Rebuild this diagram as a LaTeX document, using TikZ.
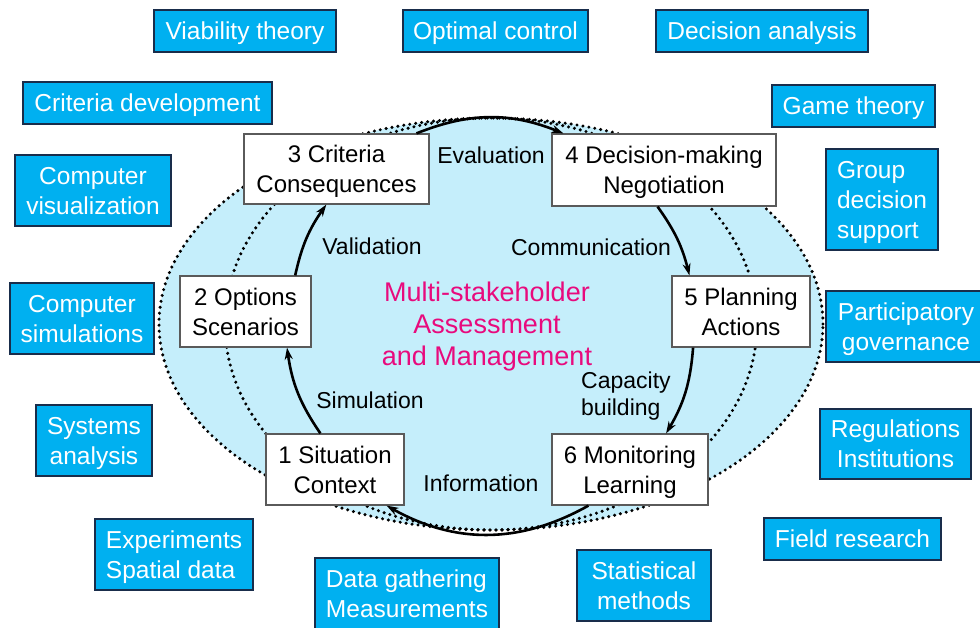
\documentclass[tikz,border=0pt]{standalone}
\usepackage{fontspec}
\setmainfont{Liberation Sans}
\usetikzlibrary{arrows.meta}
\definecolor{ellfill}{RGB}{197,238,251}
\definecolor{bluebox}{RGB}{0,176,240}
\definecolor{blueedge}{RGB}{25,45,75}
\definecolor{magen}{RGB}{232,10,125}
\definecolor{boxedge}{RGB}{90,90,90}
\begin{document}
\begin{tikzpicture}[x=1pt,y=-1pt,
  stage/.style={draw=boxedge, line width=1.2pt, fill=white, inner sep=0pt, align=center, text depth=0pt, font=\fontsize{24}{30}\selectfont},
  topic/.style={draw=blueedge, line width=1.2pt, fill=bluebox, text=white, inner sep=0pt, align=center, text depth=0pt, font=\fontsize{24.5}{30}\selectfont},
  lbl/.style={inner sep=0pt, text depth=0pt, font=\fontsize{23}{27.5}\selectfont},
  cyc/.style={line width=2.6pt, -{Stealth[length=12pt,width=8pt]}},
  dots/.style={line width=3.4pt, dash pattern=on 0pt off 6pt, line cap=round}
]
\useasboundingbox (0,0) rectangle (980,627);
\fill[white] (0,0) rectangle (980,627);
% ellipses
\fill[ellfill] (491,324) ellipse [x radius=332pt, y radius=206pt];
\draw[dots] (491,324) ellipse [x radius=332pt, y radius=206pt];
\draw[dots] (491,324) ellipse [x radius=266pt, y radius=206pt];

% stage boxes
\node[stage, minimum width=185pt, minimum height=70pt] (n3) at (336.5,169) {3 Criteria\\Consequences};
\node[stage, minimum width=224pt, minimum height=72pt] (n4) at (664,170) {4 Decision-making\\Negotiation};
\node[stage, minimum width=131pt, minimum height=71pt] (n2) at (245.5,311.5) {2 Options\\Scenarios};
\node[stage, minimum width=138pt, minimum height=71pt] (n5) at (741,311.5) {5 Planning\\Actions};
\node[stage, minimum width=138pt, minimum height=71pt] (n1) at (335,469.5) {1 Situation\\Context};
\node[stage, minimum width=156pt, minimum height=71pt] (n6) at (630,469.5) {6 Monitoring\\Learning};

% cycle arrows
\draw[cyc] (n3.24.6) to[bend left=21.8] (n4.160);
\draw[cyc] (n4.260.5) to[bend left=10.8] (n5.145.2);
\draw[cyc] (n5.217.7) to[bend left=13] (n6.45.4);
\draw[cyc] (n6.221.6) to[bend left=29.3] (n1.325.7);
\draw[cyc] (n1.112.9) to[bend left=13.2] (n2.319.5);
\draw[cyc] (n2.36.2) to[bend left=11.3] (n3.254.8);

% labels
\node[lbl] (ev) at (491,155) {Evaluation};
\node[lbl] (va) at (372,246) {Validation};
\node[lbl] (co) at (591,247) {Communication};
\node[lbl] (si) at (370,400) {Simulation};
\node[lbl] (in) at (481,483) {Information};
\node[lbl, align=left, anchor=west] (cb) at (581,393.5) {Capacity\\building};
\node[inner sep=0pt, align=center, text depth=0pt, text=magen, font=\fontsize{27}{32}\selectfont] (ctr) at (487,324) {Multi-stakeholder\\Assessment\\and Management};

% topic boxes
\node[topic, minimum width=182pt, minimum height=42pt] (t1) at (245,31) {Viability theory};
\node[topic, minimum width=185pt, minimum height=42pt] (t2) at (495.5,31) {Optimal control};
\node[topic, minimum width=212pt, minimum height=42pt] (t3) at (762,31) {Decision analysis};
\node[topic, minimum width=249pt, minimum height=42pt] (t4) at (147.5,103) {Criteria development};
\node[topic, minimum width=163pt, minimum height=42pt] (t5) at (853.5,106) {Game theory};
\node[topic, minimum width=156pt, minimum height=71pt] (t6) at (93,190.5) {Computer\\visualization};
\node[topic, align=left, minimum width=112pt, minimum height=101pt] (t7) at (882,199.5) {Group\\decision\\support};
\node[topic, minimum width=144pt, minimum height=71pt] (t8) at (82,318.5) {Computer\\simulations};
\node[topic, minimum width=160pt, minimum height=71pt] (t9) at (906,326.5) {Participatory\\governance};
\node[topic, minimum width=116pt, minimum height=71pt] (t10) at (94,440.5) {Systems\\analysis};
\node[topic, minimum width=151pt, minimum height=70pt] (t11) at (895.5,444) {Regulations\\Institutions};
\node[topic, align=left, minimum width=158pt, minimum height=71pt] (t12) at (174,554.5) {Experiments\\Spatial data};
\node[topic, minimum width=177pt, minimum height=42pt] (t13) at (852.5,539) {Field research};
\node[topic, align=left, minimum width=184pt, minimum height=71pt] (t14) at (407,593.5) {Data gathering\\Measurements};
\node[topic, minimum width=134pt, minimum height=71pt] (t15) at (644,585.5) {Statistical\\methods};
\end{tikzpicture}
\end{document}
